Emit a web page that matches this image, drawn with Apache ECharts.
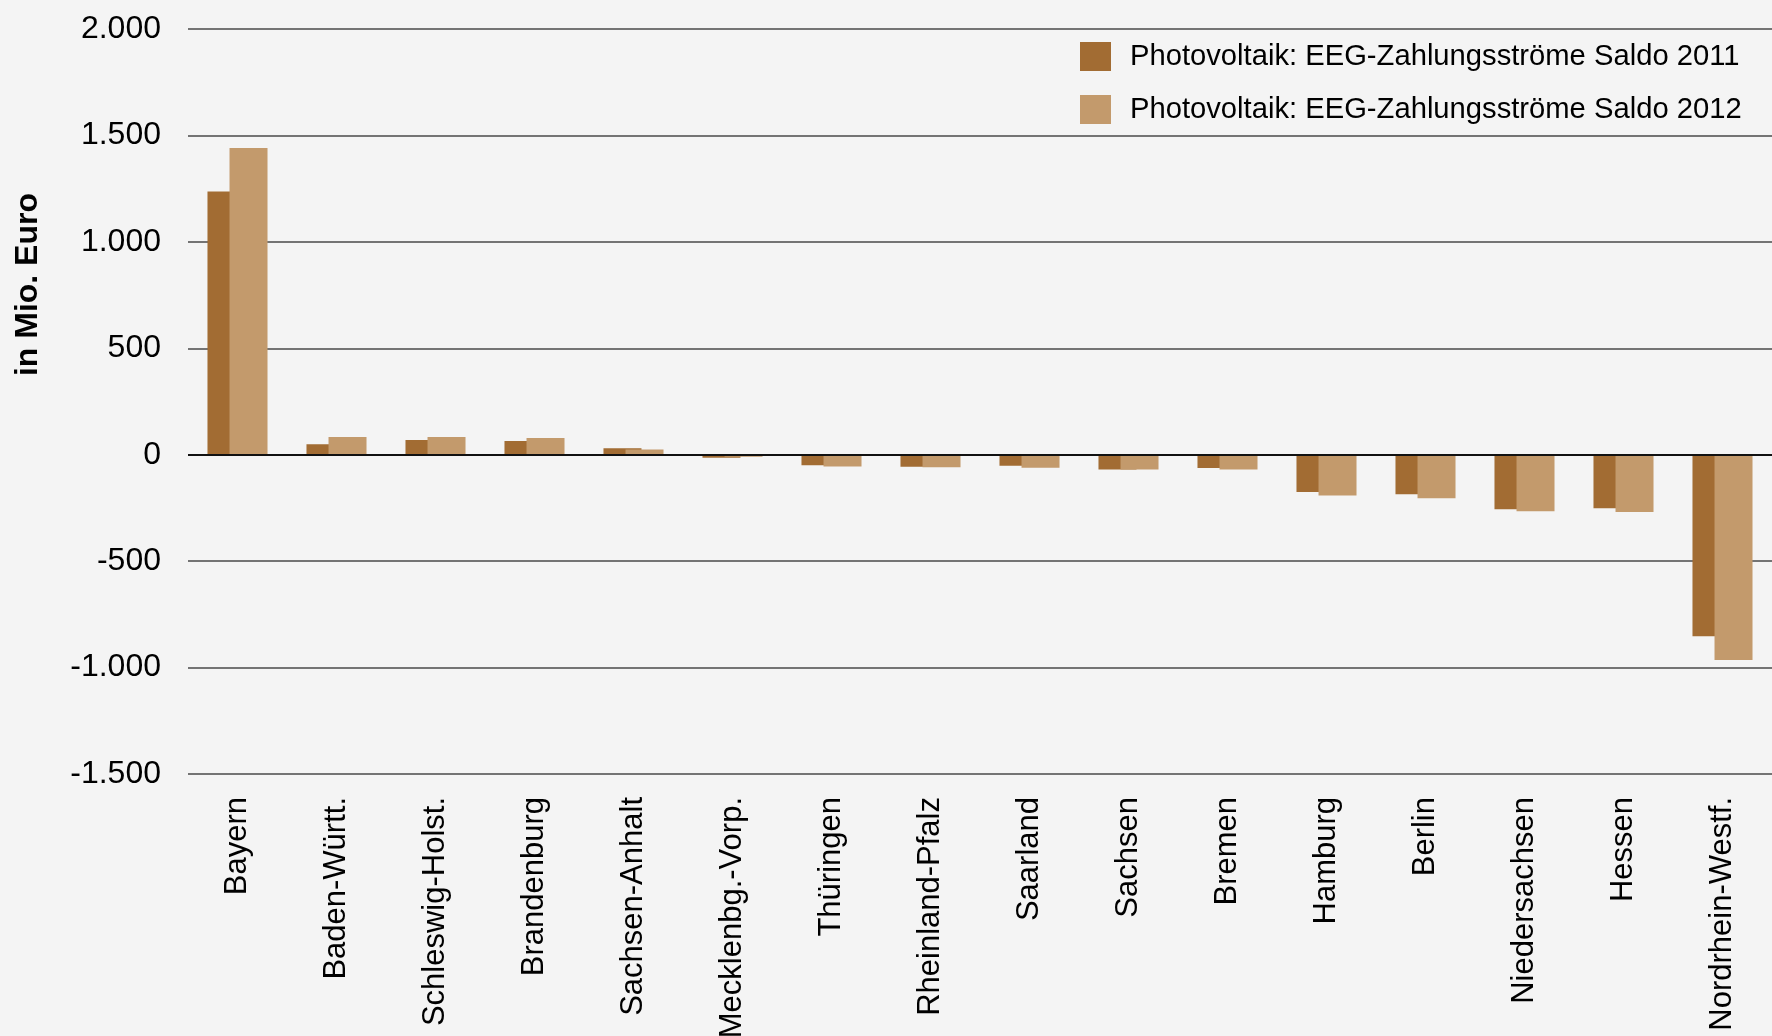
<!DOCTYPE html>
<html>
<head>
<meta charset="utf-8">
<script src="https://cdn.jsdelivr.net/npm/echarts@6/dist/echarts.min.js"></script>
<style>
  html, body { margin: 0; padding: 0; background: #f4f4f4; }
  #chart { width: 1772px; height: 1036px; }
</style>
</head>
<body>
<div id="chart"></div>
<script>
// Bundeslaender, sortiert wie im Original
var categories = ['Bayern', 'Baden-Württ.', 'Schleswig-Holst.', 'Brandenburg', 'Sachsen-Anhalt',
  'Mecklenbg.-Vorp.', 'Thüringen', 'Rheinland-Pfalz', 'Saarland', 'Sachsen', 'Bremen',
  'Hamburg', 'Berlin', 'Niedersachsen', 'Hessen', 'Nordrhein-Westf.']
// in Mio. Euro
var saldo2011 = [1237, 49, 69, 64, 30, -14, -50, -56, -52, -70, -63, -175, -186, -256, -252, -853]
var saldo2012 = [1441, 83, 83, 78, 25, -10, -55, -59, -61, -69, -69, -192, -205, -266, -269, -965]
var seriesNames = ['Photovoltaik: EEG-Zahlungsströme Saldo 2011', 'Photovoltaik: EEG-Zahlungsströme Saldo 2012']
var yTicks = { min: -1500, max: 2000, step: 500 }

var fontFamily = 'Liberation Sans, Arial, sans-serif'

// deutsche Tausenderpunkte
function fmt(v) {
  var s = String(Math.abs(v)).replace(/\B(?=(\d{3})+(?!\d))/g, '.')
  return (v < 0 ? '-' : '') + s
}

var chart = echarts.init(document.getElementById('chart'))
chart.setOption({
  backgroundColor: '#f4f4f4',
  animation: false,
  textStyle: { fontFamily: fontFamily, color: '#000' },
  grid: {
    left: 188,
    right: 0,
    top: 29,
    bottom: 262,
    outerBoundsMode: 'none'
  },
  legend: {
    left: 1075,
    top: 37,
    orient: 'vertical',
    itemWidth: 31,
    itemHeight: 29,
    itemGap: 24,
    icon: 'rect',
    textStyle: { fontSize: 29.2, color: '#000', fontFamily: fontFamily, padding: [0, 0, 0, 14] },
    data: seriesNames
  },
  graphic: [{
    type: 'text',
    left: 12,
    top: 193,
    rotation: Math.PI / 2,
    style: {
      text: 'in Mio. Euro',
      font: 'bold 32px ' + fontFamily,
      fill: '#000'
    }
  }],
  xAxis: {
    type: 'category',
    data: categories,
    axisLine: { show: false, onZero: false },
    axisTick: { show: false },
    axisLabel: {
      rotate: 90,
      interval: 0,
      margin: 23,
      fontSize: 31,
      color: '#000'
    }
  },
  yAxis: {
    type: 'value',
    min: yTicks.min,
    max: yTicks.max,
    interval: yTicks.step,
    axisLine: { show: false },
    axisTick: { show: false },
    axisLabel: {
      margin: 27,
      fontSize: 32,
      color: '#000',
      formatter: fmt
    },
    splitLine: { lineStyle: { color: '#4a4a4a', width: 1.5 } }
  },
  series: [{
    name: seriesNames[0],
    type: 'bar',
    data: saldo2011,
    barWidth: 38,
    barGap: '-42%',
    itemStyle: { color: '#a26c33' }
  }, {
    name: seriesNames[1],
    type: 'bar',
    data: saldo2012,
    barWidth: 38,
    itemStyle: { color: '#c39a6c' },
    markLine: {
      silent: true,
      symbol: 'none',
      label: { show: false },
      lineStyle: { color: '#111', width: 2, type: 'solid' },
      data: [{ yAxis: 0 }]
    }
  }]
})
</script>
</body>
</html>
